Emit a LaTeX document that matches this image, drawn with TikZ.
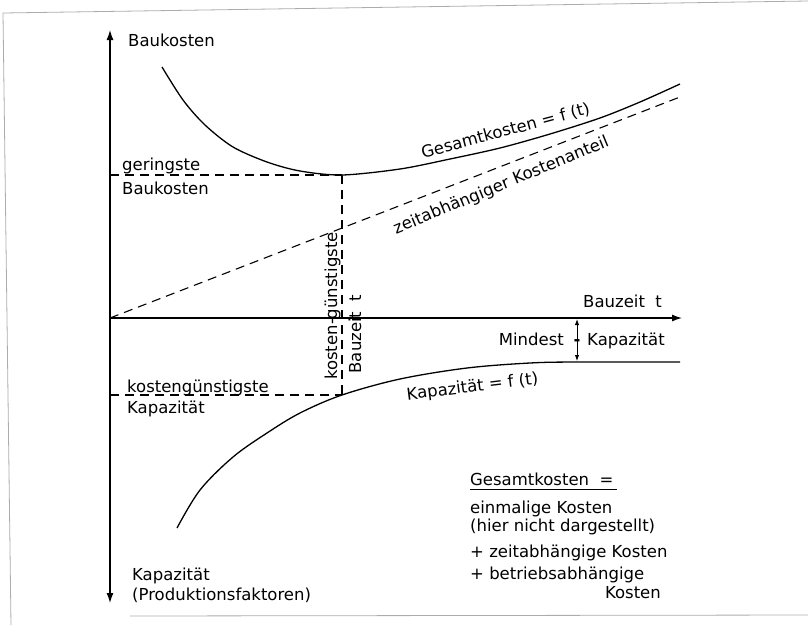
\documentclass[tikz,border=0pt]{standalone}
\usepackage{fontspec}
\setmainfont{DejaVu Sans}
\usetikzlibrary{arrows.meta}
\begin{document}
\begin{tikzpicture}[x=1pt,y=-1pt,
  curve/.style={line width=1.3pt},
  dsh/.style={line width=1.1pt, dash pattern=on 9pt off 6pt},
  lbl/.style={font=\fontsize{16.5}{19}\selectfont, inner sep=0pt},
  axis/.style={line width=1.3pt},
  tip/.style={-{Latex[length=10pt,width=7pt]}},
  smalltip/.style={{Latex[length=6pt,width=4.5pt]}-{Latex[length=6pt,width=4.5pt]}, line width=1pt},
  framel/.style={draw=gray!65, line width=0.8pt}]
\useasboundingbox (0,0) rectangle (808,625);
% scanned frame
\draw[framel] (808,1) -- (3,13) -- (11,625);
\draw[framel] (130,616) -- (808,615);
% coordinates
\coordinate (O) at (110,318);
\coordinate (Ytop) at (110,30);
\coordinate (Ybot) at (110,603);
\coordinate (Xend) at (682,318);
\coordinate (Gmin) at (342,175);
\coordinate (Kopt) at (342,395);
\coordinate (Zend) at (680,97);
\coordinate (M1) at (577,319);
\coordinate (M2) at (577,361);
% axes
\draw[axis,tip] (O) -- (Ytop);
\draw[axis,tip] (O) -- (Ybot);
\draw[axis,tip] (O) -- (Xend);
% Gesamtkosten curve
\draw[curve] plot[smooth, tension=0.5] coordinates {(162,67) (183,100) (205,125) (233,147) (267,162) (300,171) (342,175) (400,169) (450,159) (500,148) (550,134) (600,118) (640,102) (680,84)};
% time dependent cost share
\draw[dsh] (O) -- (Zend);
% Kapazitaet curve
\draw[curve] plot[smooth, tension=0.55] coordinates {(177,528) (200,490) (233,457) (267,433) (300,413) (342,395) (400,379) (467,368) (530,363) (577,362) (680,362)};
% optimum dashed lines
\draw[dsh] (O |- Gmin) -- (Gmin);
\draw[dsh] (Gmin) -- (Kopt);
\draw[dsh] (O |- Kopt) -- (Kopt);
% Mindest-Kapazitaet
\draw[smalltip] (M1) -- (M2);
% labels
\node[lbl, anchor=base west] (baukosten) at (128,46) {Baukosten};
\node[lbl, anchor=base west] (gering) at (122,170) {geringste};
\node[lbl, anchor=base west] (gering2) at (122,194) {Baukosten};
\node[lbl, anchor=base west] (kgkap) at (127,392) {kostengünstigste};
\node[lbl, anchor=base west] (kgkap2) at (127,413) {Kapazität};
\node[lbl, anchor=base west] (kapax) at (132,580) {Kapazität};
\node[lbl, anchor=base west] (prodf) at (132,600) {(Produktionsfaktoren)};
\node[lbl, anchor=base west] (bauzeit) at (583,307) {Bauzeit~~t};
\node[lbl, anchor=base east] (mindest) at (564,345) {Mindest};
\node[lbl, anchor=base, font=\fontsize{16.5}{19}\selectfont\bfseries] (mdash) at (577,345) {-};
\node[lbl, anchor=base west] (minkap) at (587,345) {Kapazität};
\node[lbl, anchor=base, rotate=15] (gesf) at (507,136) {Gesamtkosten = f (t)};
\node[lbl, anchor=base, rotate=22.5] (zeitab) at (503,190) {zeitabhängiger Kostenanteil};
\node[lbl, anchor=base, rotate=7] (kapf) at (473,392) {Kapazität = f (t)};
\node[lbl, anchor=base, rotate=90] (kgbz) at (337,306) {kosten-günstigste};
\node[lbl, anchor=base, rotate=90] (bzt) at (361,334) {Bauzeit~~t};
% legend
\node[lbl, anchor=base west] (leg1) at (470,485) {Gesamtkosten~~=};
\draw[line width=1pt] ([yshift=-4pt]leg1.base west) -- ([yshift=-4pt,xshift=3pt]leg1.base east);
\node[lbl, anchor=base west] (leg2) at (470,513) {einmalige Kosten};
\node[lbl, anchor=base west] (leg3) at (470,531) {(hier nicht dargestellt)};
\node[lbl, anchor=base west] (leg4) at (470,557) {+ zeitabhängige Kosten};
\node[lbl, anchor=base west] (leg5) at (470,579) {+ betriebsabhängige};
\node[lbl, anchor=base east] (leg6) at (661,598) {Kosten};
\end{tikzpicture}
\end{document}
